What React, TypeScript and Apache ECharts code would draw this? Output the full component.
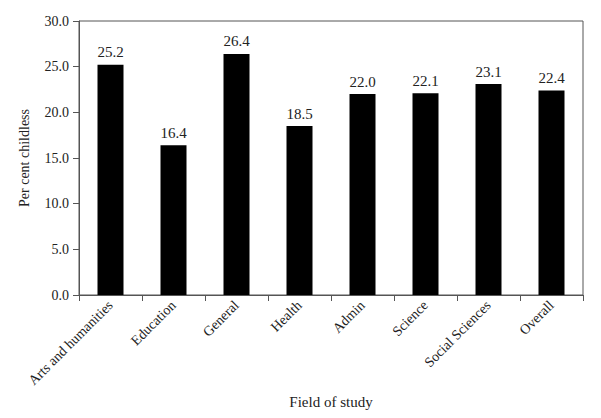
import React, { useEffect, useRef } from "react";
import * as echarts from "echarts";

const categories = ["Arts and humanities", "Education", "General", "Health", "Admin", "Science", "Social Sciences", "Overall"];
const values = [25.2, 16.4, 26.4, 18.5, 22.0, 22.1, 23.1, 22.4];
const yTicks = { min: 0, max: 30, interval: 5 };

const FONT = "'Liberation Serif', 'Times New Roman', serif";
const AXIS = "#555";
const TEXT = "#222";

export default function App() {
  const ref = useRef<HTMLDivElement>(null);
  useEffect(() => {
    const chart = echarts.init(ref.current!, null, { renderer: "svg" });
    chart.setOption({
      animation: false,
      textStyle: { fontFamily: FONT },
      grid: { left: 79, right: 18, top: 21, bottom: 123, show: true, borderColor: AXIS, borderWidth: 1, backgroundColor: "transparent" },
      xAxis: {
        type: "category",
        data: categories,
        name: "Field of study",
        nameLocation: "middle",
        nameGap: 78,
        nameTextStyle: { fontFamily: FONT, fontSize: 15, color: TEXT },
        axisLine: { lineStyle: { color: AXIS, width: 1 } },
        axisTick: { show: true, length: 6, lineStyle: { color: AXIS } },
        axisLabel: { rotate: 45, fontFamily: FONT, fontSize: 14, color: TEXT, interval: 0, margin: 8 },
      },
      yAxis: {
        type: "value",
        min: yTicks.min,
        max: yTicks.max,
        interval: yTicks.interval,
        name: "Per cent childless",
        nameLocation: "middle",
        nameGap: 48,
        nameTextStyle: { fontFamily: FONT, fontSize: 14, color: TEXT },
        axisLine: { show: true, lineStyle: { color: AXIS, width: 1 } },
        axisTick: { show: true, length: 6, lineStyle: { color: AXIS } },
        splitLine: { show: false },
        axisLabel: { fontFamily: FONT, fontSize: 14, color: TEXT, margin: 10, formatter: (v: number) => v.toFixed(1) },
      },
      series: [
        {
          type: "bar",
          data: values,
          barWidth: 26,
          itemStyle: { color: "#000" },
          label: {
            show: true,
            position: "top",
            distance: 5,
            fontFamily: FONT,
            fontSize: 15,
            color: TEXT,
            formatter: (p: any) => Number(p.value).toFixed(1),
          },
        },
      ],
    });
    return () => chart.dispose();
  }, []);
  return <div ref={ref} style={{ width: 601, height: 418, position: "absolute", left: 0, top: 0 }} />;
}
